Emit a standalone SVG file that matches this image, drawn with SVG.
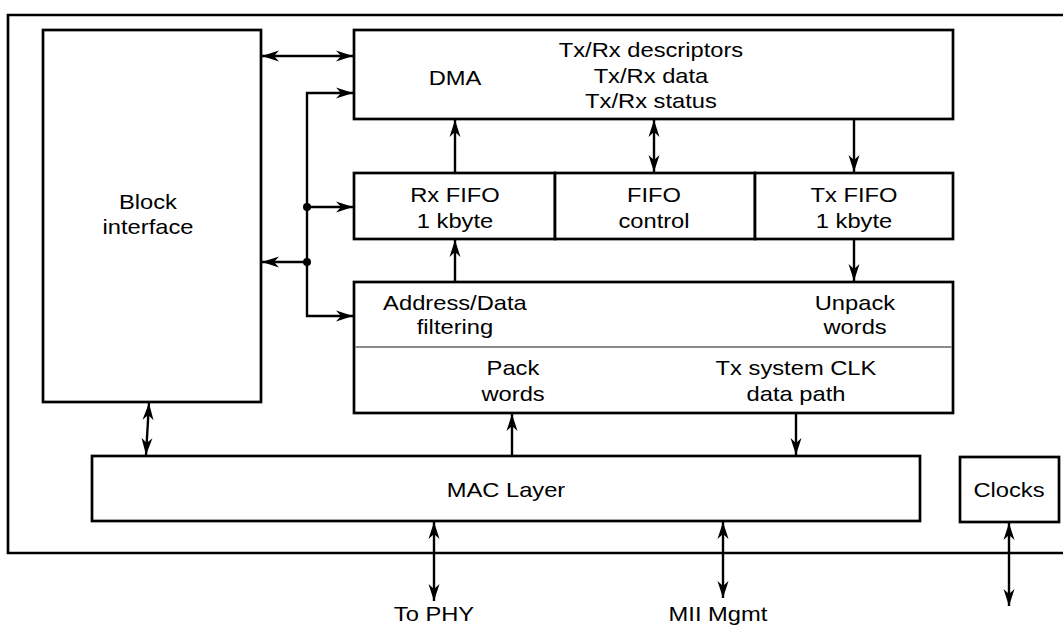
<svg xmlns="http://www.w3.org/2000/svg" width="1063" height="626" viewBox="0 0 1063 626">
  <style>
    .box { fill: #fff; stroke: #000; stroke-width: 2.7; }
    .frame { fill: none; stroke: #000; stroke-width: 2.7; }
    .gsep { stroke: #8a8a8a; stroke-width: 2; }
    .wire { fill: none; stroke: #000; stroke-width: 2.4; }
    .one { marker-end: url(#ah); }
    .two { marker-start: url(#ah); marker-end: url(#ah); }
    text { font-family: "Liberation Sans", Arial, Helvetica, sans-serif; font-size: 21px; fill: #000; text-anchor: middle; transform-box: fill-box; transform-origin: center; transform: scaleX(1.13); }
  </style>
  <defs>
    <marker id="ah" markerUnits="userSpaceOnUse" markerWidth="18" markerHeight="12" refX="17" refY="5.5" orient="auto-start-reverse" viewBox="0 0 18 11">
      <path d="M0,0 L17,5.5 L0,11 L5,5.5 z" fill="#000"/>
    </marker>
  </defs>
  <rect width="1063" height="626" fill="#fff"/>

  <g id="frame">
    <path class="frame" d="M1070,15 H8 V553 H1070"/>
  </g>

  <g id="block-interface">
    <rect class="box" x="43" y="30" width="218" height="372"/>
    <text x="148" y="209">Block</text>
    <text x="148" y="234">interface</text>
  </g>

  <g id="dma">
    <rect class="box" x="354" y="30" width="599" height="89"/>
    <text x="455" y="85">DMA</text>
    <text x="651" y="57">Tx/Rx descriptors</text>
    <text x="651" y="83">Tx/Rx data</text>
    <text x="651" y="108">Tx/Rx status</text>
  </g>

  <g id="rx-fifo">
    <rect class="box" x="354" y="173" width="201" height="66"/>
    <text x="455" y="202">Rx FIFO</text>
    <text x="455" y="228">1 kbyte</text>
  </g>

  <g id="fifo-control">
    <rect class="box" x="555" y="173" width="200" height="66"/>
    <text x="654" y="202">FIFO</text>
    <text x="654" y="228">control</text>
  </g>

  <g id="tx-fifo">
    <rect class="box" x="755" y="173" width="198" height="66"/>
    <text x="854" y="202">Tx FIFO</text>
    <text x="854" y="228">1 kbyte</text>
  </g>

  <g id="datapath">
    <rect class="box" x="354" y="282" width="599" height="131"/>
    <line class="gsep" x1="355" y1="347" x2="952" y2="347"/>
    <text x="455" y="310">Address/Data</text>
    <text x="455" y="334">filtering</text>
    <text x="855" y="310">Unpack</text>
    <text x="855" y="334">words</text>
    <text x="513" y="375">Pack</text>
    <text x="513" y="401">words</text>
    <text x="796" y="375">Tx system CLK</text>
    <text x="796" y="401">data path</text>
  </g>

  <g id="mac-layer">
    <rect class="box" x="92" y="456" width="828" height="65"/>
    <text x="506" y="497">MAC Layer</text>
  </g>

  <g id="clocks">
    <rect class="box" x="960" y="457" width="99" height="65"/>
    <text x="1009" y="497">Clocks</text>
  </g>

  <g id="labels">
    <text x="434" y="621">To PHY</text>
    <text x="718" y="621">MII Mgmt</text>
  </g>

  <g id="connectors">
    <line class="wire two" x1="262" y1="56" x2="353" y2="56"/>
    <polyline class="wire one" points="307,207 307,93 353,93"/>
    <line class="wire one" x1="307" y1="207" x2="353" y2="207"/>
    <line class="wire one" x1="307" y1="262" x2="262" y2="262"/>
    <polyline class="wire one" points="307,207 307,316 353,316"/>
    <circle cx="307" cy="207" r="4" fill="#000"/>
    <circle cx="307" cy="262" r="4" fill="#000"/>

    <line class="wire one" x1="455" y1="173" x2="455" y2="120"/>
    <line class="wire two" x1="654" y1="120" x2="654" y2="172"/>
    <line class="wire one" x1="854" y1="119" x2="854" y2="172"/>
    <line class="wire one" x1="455" y1="282" x2="455" y2="240"/>
    <line class="wire one" x1="854" y1="239" x2="854" y2="281"/>
    <line class="wire one" x1="512" y1="456" x2="512" y2="414"/>
    <line class="wire one" x1="796" y1="413" x2="796" y2="455"/>
    <line class="wire two" x1="149" y1="403" x2="146" y2="455"/>
    <line class="wire two" x1="434" y1="522" x2="434" y2="601"/>
    <line class="wire two" x1="723" y1="522" x2="723" y2="598"/>
    <line class="wire two" x1="1009" y1="523" x2="1009" y2="606"/>
  </g>
</svg>
